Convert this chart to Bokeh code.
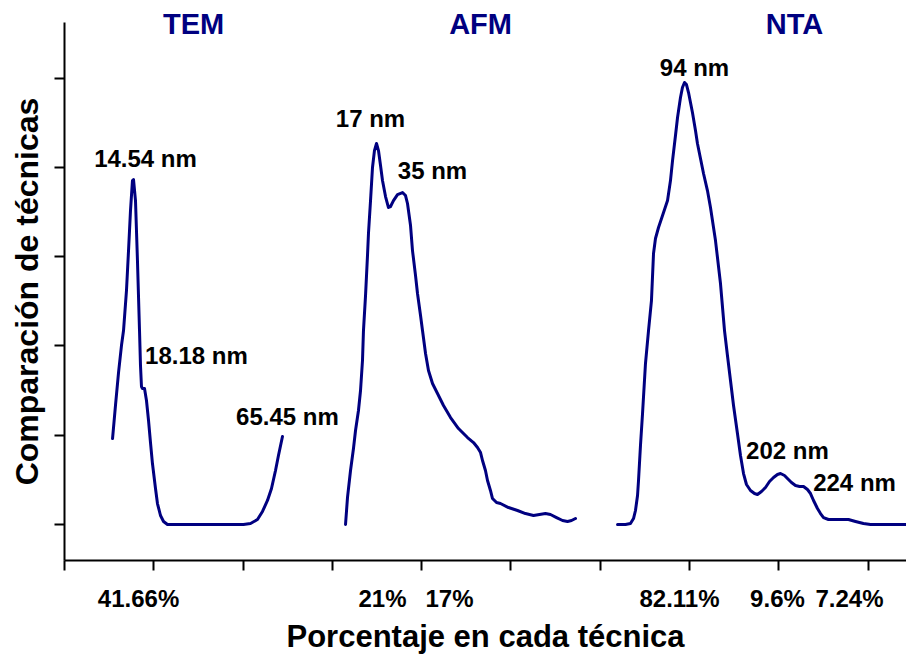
from bokeh.plotting import figure
from bokeh.models import Label, FixedTicker, Range1d, LinearAxis
from bokeh.embed import file_html
from bokeh.resources import INLINE

# ---- data (x and y in axis tick units) ----
tem_x = [0.538, 0.571, 0.605, 0.638, 0.661, 0.694, 0.717, 0.739, 0.761, 0.773, 0.795, 0.817,
         0.840, 0.851, 0.862, 0.873, 0.896, 0.918, 0.941, 0.963, 0.985, 1.019, 1.041, 1.075,
         1.109, 1.153, 1.209, 2.004, 2.083, 2.161, 2.217, 2.273, 2.318, 2.363, 2.396, 2.441]
tem_y = [0.963, 1.333, 1.702, 2.004, 2.172, 2.620, 3.068, 3.516, 3.852, 3.863, 3.628, 2.956,
         2.172, 1.781, 1.545, 1.523, 1.523, 1.389, 1.165, 0.918, 0.683, 0.403, 0.235, 0.101,
         0.034, 0.0, 0.0, 0.0, 0.011, 0.056, 0.146, 0.269, 0.403, 0.605, 0.773, 0.985]

afm_x = [3.147, 3.169, 3.203, 3.236, 3.259, 3.292, 3.315, 3.337, 3.348, 3.371, 3.393, 3.404,
         3.427, 3.449, 3.471, 3.494, 3.516, 3.539, 3.561, 3.595, 3.628, 3.651, 3.684, 3.729,
         3.785, 3.819, 3.841, 3.875, 3.897, 3.931, 3.953, 3.987, 4.009, 4.043, 4.076, 4.121,
         4.177, 4.244, 4.323, 4.412, 4.513, 4.580, 4.625, 4.659, 4.681, 4.714, 4.737, 4.770,
         4.793, 4.838, 4.882, 4.972, 5.073, 5.162, 5.252, 5.319, 5.386, 5.442, 5.510, 5.577,
         5.633, 5.678, 5.722]
afm_y = [0.0, 0.302, 0.605, 0.851, 1.053, 1.277, 1.501, 1.837, 2.172, 2.564, 3.012, 3.259,
         3.628, 3.998, 4.188, 4.267, 4.188, 4.020, 3.852, 3.673, 3.550, 3.561, 3.628, 3.695,
         3.718, 3.684, 3.595, 3.348, 3.068, 2.788, 2.587, 2.340, 2.172, 1.915, 1.725, 1.579,
         1.467, 1.333, 1.198, 1.075, 0.974, 0.918, 0.862, 0.806, 0.717, 0.605, 0.493, 0.381,
         0.291, 0.246, 0.235, 0.190, 0.157, 0.123, 0.101, 0.112, 0.123, 0.112, 0.078, 0.045,
         0.034, 0.045, 0.067]

nta_x = [6.193, 6.282, 6.338, 6.372, 6.394, 6.417, 6.428, 6.450, 6.473, 6.506, 6.540, 6.573,
         6.596, 6.618, 6.652, 6.697, 6.753, 6.786, 6.809, 6.842, 6.865, 6.898, 6.920, 6.943,
         6.965, 6.988, 7.010, 7.032, 7.066, 7.088, 7.122, 7.156, 7.200, 7.234, 7.290, 7.346,
         7.391, 7.424, 7.458, 7.492, 7.536, 7.570, 7.604, 7.637, 7.682, 7.727, 7.760, 7.805,
         7.850, 7.895, 7.940, 7.984, 8.018, 8.063, 8.096, 8.141, 8.186, 8.231, 8.276, 8.320,
         8.354, 8.388, 8.432, 8.466, 8.500, 8.555, 8.611, 8.690, 8.779, 8.858, 8.947, 9.026,
         9.104, 9.429]
nta_y = [0.0, 0.0, 0.011, 0.067, 0.157, 0.325, 0.493, 0.885, 1.243, 1.803, 2.172, 2.508,
         3.035, 3.203, 3.326, 3.460, 3.628, 3.852, 4.076, 4.356, 4.558, 4.782, 4.894, 4.950,
         4.927, 4.838, 4.726, 4.614, 4.412, 4.267, 4.099, 3.931, 3.740, 3.550, 3.180, 2.699,
         2.172, 1.893, 1.613, 1.333, 1.019, 0.773, 0.571, 0.448, 0.381, 0.347, 0.336, 0.370,
         0.414, 0.482, 0.526, 0.560, 0.571, 0.549, 0.515, 0.470, 0.437, 0.426, 0.426, 0.392,
         0.347, 0.269, 0.179, 0.123, 0.078, 0.056, 0.056, 0.056, 0.056, 0.034, 0.011, 0.0,
         0.0, 0.0]

technique_names = ["TEM", "AFM", "NTA"]
technique_x = [1.445, 4.659, 8.175]

peak_labels = ["14.54 nm", "18.18 nm", "65.45 nm", "17 nm", "35 nm", "94 nm", "202 nm", "224 nm"]
peak_x = [0.907, 1.478, 2.497, 3.427, 4.121, 7.055, 8.096, 8.847]
peak_y = [4.099, 1.893, 1.209, 4.547, 3.964, 5.118, 0.829, 0.470]

pct_labels = ["41.66%", "21%", "17%", "82.11%", "9.6%", "7.24%"]
pct_x = [0.829, 3.561, 4.311, 6.887, 7.984, 8.791]

x_ticks = [0, 1, 2, 3, 4, 5, 6, 7, 8, 9]
y_ticks = [0, 1, 2, 3, 4, 5]

LINE = "#000080"
FONT = "Liberation Sans"

p = figure(width=906, height=656, output_backend="svg", toolbar_location=None,
           x_range=Range1d(0, 9.429), y_range=Range1d(-0.403, 5.622),
           min_border_left=64, min_border_right=0, min_border_top=22, min_border_bottom=96)
p.xgrid.visible = False
p.ygrid.visible = False
p.outline_line_color = None
p.background_fill_color = "white"
p.border_fill_color = "white"

for ax, ticks in ((p.xaxis[0], x_ticks), (p.yaxis[0], y_ticks)):
    ax.ticker = FixedTicker(ticks=ticks)
    ax.major_label_overrides = {t: "" for t in ticks}
    ax.major_label_standoff = 0
    ax.major_tick_in = 0
    ax.major_tick_out = 10
    ax.minor_tick_line_color = None
    ax.axis_line_width = 2
    ax.major_tick_line_width = 2
    ax.axis_line_color = "black"
    ax.major_tick_line_color = "black"
    ax.axis_label_text_font = FONT
    ax.axis_label_text_font_style = "bold"
    ax.axis_label_text_color = "black"

p.yaxis[0].axis_label = "Comparación de técnicas"
p.yaxis[0].axis_label_text_font_size = "32px"
p.yaxis[0].axis_label_standoff = 10


def label_axis(ticks, texts, size, color, standoff):
    ax = LinearAxis(ticker=FixedTicker(ticks=ticks),
                    major_label_overrides={t: s for t, s in zip(ticks, texts)},
                    axis_line_color=None, major_tick_line_color=None,
                    minor_tick_line_color=None, major_tick_in=0, major_tick_out=0,
                    major_label_standoff=standoff,
                    major_label_text_font=FONT, major_label_text_font_style="bold",
                    major_label_text_font_size=size, major_label_text_color=color)
    return ax


# percentages under the x axis, and the x-axis title below them
pct_axis = label_axis(pct_x, pct_labels, "24px", "black", 14)
pct_axis.axis_label = "Porcentaje en cada técnica"
pct_axis.axis_label_text_font = FONT
pct_axis.axis_label_text_font_style = "bold"
pct_axis.axis_label_text_font_size = "31px"
pct_axis.axis_label_text_color = "black"
pct_axis.axis_label_standoff = 4
p.add_layout(pct_axis, "below")

# technique names on top
tech_axis = label_axis(technique_x, technique_names, "29px", LINE, -17)
p.add_layout(tech_axis, "above")

for xs, ys in ((tem_x, tem_y), (afm_x, afm_y), (nta_x, nta_y)):
    p.line(xs, ys, line_color=LINE, line_width=3, line_join="round", line_cap="round")

for t, x, y in zip(peak_labels, peak_x, peak_y):
    p.add_layout(Label(x=x, y=y, text=t, text_align="center", text_baseline="middle",
                       text_font=FONT, text_font_style="bold",
                       text_font_size="24px", text_color="black"))

open("out.html", "w").write(file_html(p, INLINE))
